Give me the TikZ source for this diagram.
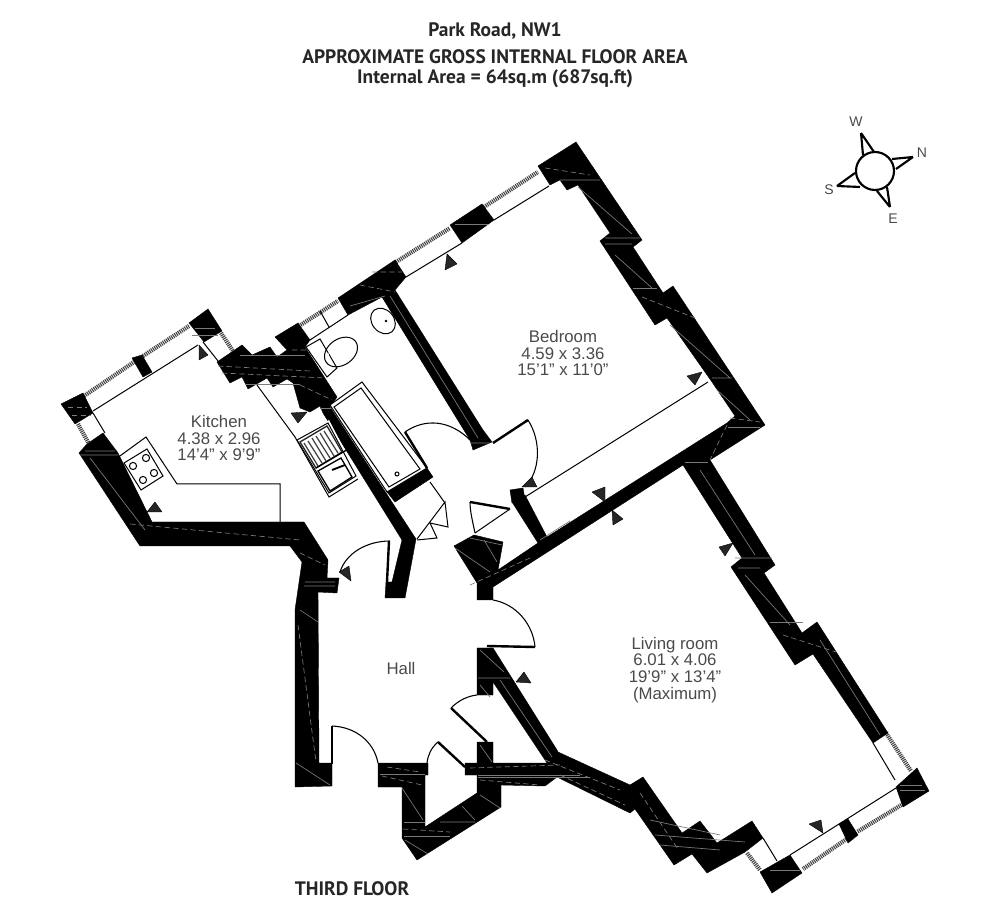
\documentclass[tikz,border=0pt]{standalone}
\usepackage{fontspec}
\setmainfont{Liberation Sans}
\newfontfamily\titlefont{PT Sans}
\definecolor{lblgrey}{HTML}{4A4A4A}
\tikzset{every picture/.style={line width=0.75pt}}
\tikzset{
  wallfill/.style={fill=black,draw=black,line width=0.3pt,line join=miter},
  wallmark/.style={draw=black!52,line width=0.5pt},
  wallmarkd/.style={draw=black!52,line width=0.5pt,dash pattern=on 4pt off 2.5pt},
  hatchstrip/.style={draw=black!75,line width=3.2pt,dash pattern=on 0.8pt off 0.7pt},
  thinline/.style={draw=black,line width=0.75pt},
  leaf/.style={draw=black,line width=1.8pt},
  swing/.style={draw=black,line width=0.8pt},
  marker/.style={fill=black!85,draw=black,line width=0.3pt,line join=round},
  roomlbl/.style={inner sep=0.75pt,align=center,text=lblgrey,font=\fontsize{12.6pt}{12.6pt}\selectfont},
  titlelbl/.style={inner sep=0.75pt,text=black!85,font=\titlefont\bfseries\fontsize{14.6pt}{16pt}\selectfont},
  compasslbl/.style={inner sep=0.75pt,text=lblgrey,font=\fontsize{10.5pt}{11pt}\selectfont}
}

\begin{document}
\begin{tikzpicture}[x=0.75pt,y=0.75pt,yscale=-1,xscale=1]
\useasboundingbox (0,0) rectangle (1000,919);

%Windows, hatched strips
\draw[hatchstrip] (84,396) -- (134,362) (143,356) -- (189,326);
\draw[hatchstrip] (78,424) -- (89,444);
\draw[hatchstrip] (221,333) -- (233,351);
\draw[hatchstrip] (299,326) -- (338,301);
\draw[hatchstrip] (396,262) -- (450,228);
\draw[hatchstrip] (484,207) -- (538,172);
\draw[hatchstrip] (886,733) -- (911,771);
\draw[hatchstrip] (903,804) -- (857,832) (848,838) -- (803,869);
\draw[hatchstrip] (747,853) -- (760,870);

%Windows, inner lines
\draw[thinline] (93,411) -- (198,345);
\draw[thinline] (93,413) -- (105,433);
\draw[thinline] (203,342) -- (218,361);
\draw[thinline] (310,340) -- (348,315);
\draw[thinline] (320,311) -- (329,327);
\draw[thinline] (406,277) -- (462,243);
\draw[thinline] (494,220) -- (549,186);
\draw[thinline] (873,743) -- (895,780);
\draw[thinline] (896,788) -- (790,855);
\draw[thinline] (763,838) -- (777,861);
\draw[thinline] (525,497) -- (708,382);

%Shape: Walls [id:kitchen_outer]
\draw[wallfill] (79,453) -- (87,444) -- (103,433) -- (118,453) -- (152,522) -- (304,522) -- (328,560) -- (327,578) -- (339,578) -- (337,593) -- (318,592) -- (319,763) -- (332,763) -- (332,786) -- (295,787) -- (295,610) -- (302,562) -- (290,546) -- (140,546) -- cycle;
%Shape: Walls [id:kitchen_top]
\draw[wallfill] (217,362) -- (242,345) -- (252,355) -- (270,347) -- (277,357) -- (287,350) -- (275,337) -- (298,323) -- (310,340) -- (305,347) -- (337,397) -- (330,407) -- (416,539) -- (405,598) -- (385,598) -- (386,582) -- (392,582) -- (402,540) -- (323,413) -- (320,406) -- (310,412) -- (300,408) -- (293,383) -- (287,379) -- (273,387) -- (267,378) -- (248,389) -- (242,377) -- (230,383) -- cycle;
%Shape: Walls [id:kitchen_corners]
\draw[wallfill] (61,404) -- (83,393) -- (93,413) -- (75,424) -- cycle;
\draw[wallfill] (189,323) -- (208,309) -- (222,331) -- (204,342) -- (197,333) -- cycle;
\draw[wallfill] (132,358) -- (142,355) -- (152,372) -- (143,377) -- cycle;
%Shape: Walls [id:bath_bedroom]
\draw[wallfill] (338,298) -- (395,260) -- (406,277) -- (395,290) -- (483,430) -- (492,442) -- (473,450) -- (470,440) -- (382,297) -- (348,315) -- cycle;
\draw[wallfill] (450,225) -- (482,204) -- (494,220) -- (462,243) -- cycle;
%Shape: Walls [id:bath_end]
\draw[wallfill] (387,492) -- (427,468) -- (433,477) -- (395,502) -- cycle;
%Shape: Walls [id:bedroom_living]
\draw[wallfill] (538,166) -- (576,142) -- (642,240) -- (633,247) -- (663,293) -- (673,286) -- (765,425) -- (710,460) -- (775,565) -- (764,573) -- (802,633) -- (817,622) -- (888,733) -- (873,743) -- (813,654) -- (795,665) -- (731,567) -- (742,558) -- (683,465) -- (493,587) -- (493,600) -- (477,600) -- (477,583) -- (454,546) -- (474,535) -- (503,542) -- (498,570) -- (538,543) -- (512,502) -- (525,495) -- (547,537) -- (727,423) -- (735,416) -- (712,382) -- (667,318) -- (655,325) -- (600,241) -- (610,233) -- (578,185) -- (567,190) -- (560,180) -- (550,185) -- cycle;
\draw[wallfill] (510,490) -- (523,488) -- (525,500) -- (512,503) -- cycle;
%Shape: Walls [id:hall_lower]
\draw[wallfill] (477,648) -- (493,648) -- (557,750) -- (558,752) -- (630,785) -- (643,777) -- (682,833) -- (700,821) -- (717,843) -- (752,821) -- (763,838) -- (745,852) -- (707,873) -- (692,854) -- (674,865) -- (635,809) -- (630,813) -- (557,777) -- (545,786) -- (501,785) -- (501,807) -- (417,860) -- (402,838) -- (402,787) -- (378,787) -- (378,763) -- (428,763) -- (428,775) -- (425,775) -- (425,827) -- (477,793) -- (477,775) -- (465,775) -- (465,763) -- (477,763) -- (477,742) -- (493,742) -- (493,763) -- (547,763) -- (493,682) -- (493,695) -- (477,695) -- cycle;
%Shape: Walls [id:corner_blocks]
\draw[wallfill] (896,787) -- (917,768) -- (929,791) -- (903,807) -- cycle;
\draw[wallfill] (760,872) -- (790,855) -- (802,873) -- (772,893) -- cycle;
\draw[wallfill] (839,824) -- (848,819) -- (858,835) -- (848,843) -- cycle;

%Straight Lines, streaks in the walls
\draw[wallmarkd] (68,407) -- (87,407) (72,415) -- (91,415);
\draw[wallmark] (85,451) -- (115,451) (80,455) -- (118,455) (90,458) -- (145,530);
\draw[wallmarkd] (130,524) -- (300,540);
\draw[wallmarkd] (300,553) -- (325,565);
\draw[wallmark] (305,582) -- (335,582) (304,586) -- (335,586) (300,610) -- (318,622);
\draw[wallmarkd] (298,625) -- (316,762);
\draw[wallmark] (296,763) -- (330,785);
\draw[wallmark] (195,328) -- (215,328) (192,335) -- (218,335);
\draw[wallmarkd] (218,366) -- (310,371) (222,373) -- (325,378);
\draw[wallmark] (240,355) -- (305,355) (245,384) -- (300,384);
\draw[wallmarkd] (292,350) -- (310,350) (300,385) -- (332,400);
\draw[wallmark] (320,408) -- (335,408);
\draw[wallmark] (350,306) -- (385,296);
\draw[wallmarkd] (360,285) -- (395,292) (372,272) -- (402,272);
\draw[wallmark] (455,224) -- (488,224);
\draw[wallmark] (390,296) -- (478,438) (470,443) -- (490,443);
\draw[wallmarkd] (545,168) -- (590,175);
\draw[wallmark] (560,180) -- (600,180) (578,187) -- (632,234);
\draw[wallmark] (605,238) -- (640,238) (605,244) -- (632,244) (615,255) -- (652,288);
\draw[wallmark] (633,288) -- (657,288);
\draw[wallmarkd] (642,297) -- (695,318);
\draw[wallmark] (670,325) -- (730,378) (712,378) -- (732,378) (717,390) -- (750,420);
\draw[wallmarkd] (730,418) -- (760,422);
\draw[wallmark] (728,427) -- (760,427);
\draw[wallmarkd] (727,425) -- (710,460);
\draw[wallmark] (685,462) -- (708,462);
\draw[wallmark] (700,470) -- (755,555);
\draw[wallmark] (735,558) -- (772,558) (738,568) -- (760,568) (745,575) -- (790,625);
\draw[wallmark] (770,622) -- (803,622);
\draw[wallmarkd] (783,635) -- (836,652);
\draw[wallmark] (820,640) -- (880,735);
\draw[wallmark] (502,545) -- (470,538) (484,540) -- (497,562);
\draw[wallmark] (455,548) -- (490,572);
\draw[wallmarkd] (470,585) -- (530,558);
\draw[wallmark] (540,540) -- (570,521);
\draw[wallmark] (480,650) -- (504,672) (478,678) -- (510,678) (480,685) -- (490,697);
\draw[wallmark] (500,680) -- (552,757);
\draw[wallmarkd] (470,768) -- (560,765);
\draw[wallmark] (478,775) -- (580,775) (478,777) -- (590,777);
\draw[wallmarkd] (480,780) -- (540,785);
\draw[wallmarkd] (545,760) -- (620,790);
\draw[wallmarkd] (560,775) -- (625,805);
\draw[wallmark] (480,745) -- (492,762);
\draw[wallmark] (380,774) -- (425,774);
\draw[wallmarkd] (387,767) -- (420,772) (382,776) -- (422,785);
\draw[wallmark] (402,788) -- (423,820);
\draw[wallmark] (404,822) -- (425,822) (404,836) -- (450,836);
\draw[wallmarkd] (403,829) -- (450,832);
\draw[wallmark] (405,840) -- (428,854) (440,822) -- (475,822);
\draw[wallmark] (462,806) -- (475,820) (480,795) -- (500,808);
\draw[wallmarkd] (640,793) -- (678,849);
\draw[wallmark] (650,820) -- (720,835) (655,835) -- (745,842) (660,845) -- (720,850);
\draw[wallmark] (900,790) -- (925,790) (900,785) -- (922,785);
\draw[wallmark] (770,870) -- (800,870);

%Straight Lines, kitchen units
\draw[thinline] (113,461) -- (146,437) -- (177,484) -- (280,484) -- (280,522);
\draw[thinline] (113,461) -- (122,474);
\draw[thinline] (124,463) -- (147,449) -- (163,476) -- (141,490) -- cycle;
\draw[thinline] (133,466) circle [radius=3.6];
\draw[thinline] (146,458) circle [radius=3.6];
\draw[thinline] (143,480) circle [radius=3.6];
\draw[thinline] (154,473) circle [radius=3.6];
\draw[thinline] (257,385) -- (295,437);
\draw[thinline] (295,437) -- (329,497) -- (358,479);
%Shape: Sink [id:sink_unit]
\fill[fill=white] (297,440) -- (329,420) -- (358,475) -- (329,494) -- cycle;
\draw[thinline] (297,440) -- (328,423) -- (356,476) -- (329,493) -- cycle;
\draw[draw=black!85,line width=1pt] (300,442) -- (327,426) -- (342,452) -- (316,468) -- cycle;
\draw[draw=black!75,line width=0.9pt] (304,443) -- (318,466) (308,441) -- (322,463) (312,438) -- (326,461) (316,436) -- (330,458) (320,433) -- (334,456) (324,431) -- (338,453);
\draw[draw=black,line width=1pt] (316,468) -- (350,448) (318,471) -- (330,491) -- (352,477) -- (341,458) -- cycle;
\draw[draw=black,line width=1.4pt] (332,470) -- (345,465);

%Shape: Bath [id:bath_tub]
\draw[thinline,fill=white] (330,405) -- (362,382) -- (427,468) -- (387,492) -- cycle;
\draw[thinline] (334,407) -- (361,388) -- (420,469) -- (389,487) -- cycle;
\draw[thinline] (397,474) circle [radius=2];
%Shape: Toilet [id:toilet_pan]
\draw[thinline] (306,347) -- (320,339) -- (337,368) -- (327,377) -- cycle;
\draw[thinline,rotate around={-35:(341,352)}] (341,352) ellipse [x radius=18,y radius=13];
\fill[white] (328,352) -- (331,362) -- (326,358) -- cycle;
%Shape: Basin [id:basin_bowl]
\draw[thinline,rotate around={50:(383,321)}] (383,321) ellipse [x radius=14,y radius=11];
\fill (386,321) circle [radius=1.3];

%Curve Lines, doors
\draw[swing] (332,726) .. controls (356,727) and (374,742) .. (378,763);
\draw[leaf] (332,726) -- (332,764);
\draw[swing] (438,742) .. controls (431,748) and (428,755) .. (427,763);
\draw[leaf] (438,742) -- (465,767);
\draw[swing] (451,708) .. controls (459,700) and (468,696) .. (477,695);
\draw[leaf] (451,708) -- (487,742);
\draw[swing] (493,600) .. controls (516,604) and (533,624) .. (535,647);
\draw[leaf] (487,646) -- (535,647);
\draw[swing] (390,541) .. controls (367,541) and (346,553) .. (340,572);
\draw[leaf] (389,541) -- (387,582);
\draw[swing] (405,432) .. controls (425,418) and (450,420) .. (470,440);
\draw[leaf] (405,432) -- (427,468);
\draw[swing] (528,420) .. controls (542,442) and (540,472) .. (525,487);
\draw[leaf] (493,443) -- (528,420);
\draw[swing] (470,502) .. controls (470,512) and (473,523) .. (475,533);
\draw[leaf] (470,502) -- (510,509);
\draw[thinline] (475,533) -- (510,509);

%Straight Lines, cupboard doors
\draw[thinline] (430,482) -- (445,503);
\draw[thinline] (417,539) -- (445,502) -- (448,527) -- (430,523);
\draw[thinline] (430,523) -- (437,538) -- (417,540);

%Shape: Radiator marks
\fill[marker] (199,345) -- (199,360) -- (208,355) -- cycle;
\fill[marker] (155,502) -- (162,512) -- (147,512) -- cycle;
\fill[marker] (307,412) -- (291,413) -- (298,423) -- cycle;
\fill[marker] (447,254) -- (445,270) -- (457,264) -- cycle;
\fill[marker] (702,372) -- (687,376) -- (695,385) -- cycle;
\fill[marker] (605,502) -- (592,492) -- (605,487) -- cycle;
\fill[marker] (612,510) -- (613,525) -- (623,519) -- cycle;
\fill[marker] (733,543) -- (719,547) -- (725,556) -- cycle;
\fill[marker] (823,833) -- (809,824) -- (821,820) -- cycle;
\fill[marker] (516,682) -- (524,672) -- (531,683) -- cycle;
\fill[marker] (339,572) -- (349,566) -- (351,581) -- cycle;
\fill[marker] (522,487) -- (532,477) -- (537,487) -- cycle;

%Shape: Compass [id:compass_rose]
\draw[draw=black,line width=1.6pt,line join=miter] (861,133) -- (863,155) (861,133) -- (874,152);
\draw[draw=black,line width=1.6pt,line join=miter] (913,157) -- (892,159) (913,157) -- (896,169);
\draw[draw=black,line width=1.6pt,line join=miter] (890,207) -- (877,191) (890,207) -- (887,187);
\draw[draw=black,line width=1.6pt,line join=miter] (837,186) -- (855,173) (837,186) -- (860,187);
\draw[draw=black,line width=1.6pt] (875,171) circle [radius=19];

% Text Node
\draw (495,31) node (ttlstreet) [titlelbl] {Park Road, NW1};
% Text Node
\draw (495,57) node (ttlarea) [titlelbl] {APPROXIMATE GROSS INTERNAL FLOOR AREA};
% Text Node
\draw (495,79) node (ttlsize) [titlelbl] {Internal Area = 64sq.m (687sq.ft)};
% Text Node
\draw (352,889) node (ttlfloor) [titlelbl] {THIRD FLOOR};
% Text Node
\draw (219,438) node (lblkitchen) [roomlbl] {Kitchen\\4.38 x 2.96\\14'4" x 9'9"};
% Text Node
\draw (563,353) node (lblbedroom) [roomlbl] {Bedroom\\4.59 x 3.36\\15'1" x 11'0"};
% Text Node
\draw (675,670) node (lblliving) [roomlbl] {Living room\\6.01 x 4.06\\19'9" x 13'4"\\(Maximum)};
% Text Node
\draw (401,668) node (lblhall) [roomlbl] {Hall};
% Text Node
\draw (856,122) node (lblwest) [compasslbl] {W};
% Text Node
\draw (922,153) node (lblnorth) [compasslbl] {N};
% Text Node
\draw (893,219) node (lbleast) [compasslbl] {E};
% Text Node
\draw (829,190) node (lblsouth) [compasslbl] {S};

\end{tikzpicture}
\end{document}
